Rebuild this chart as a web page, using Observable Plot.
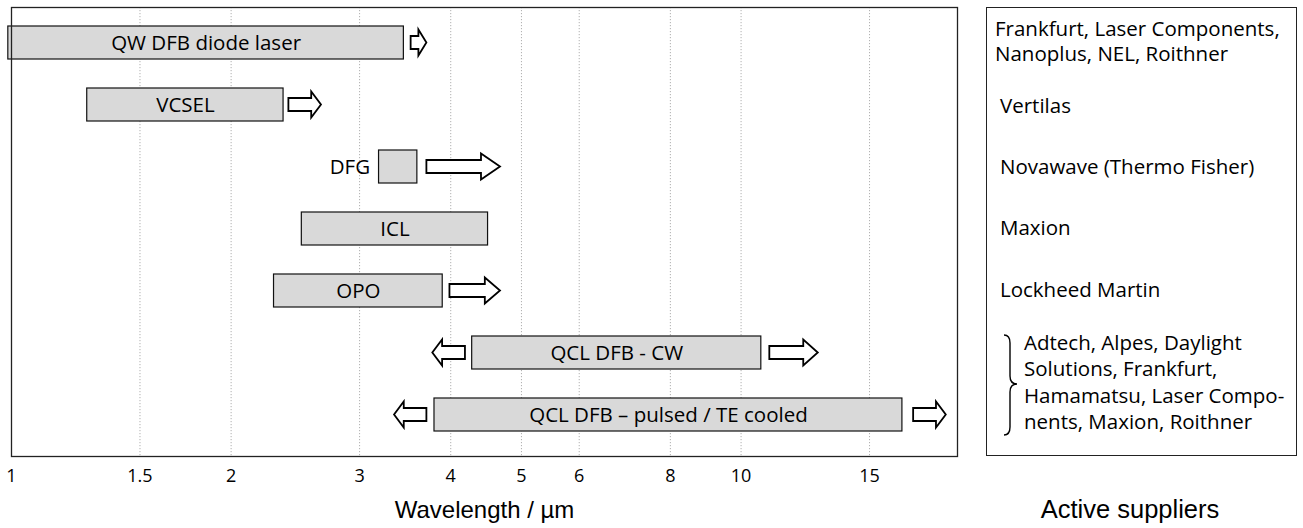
<!DOCTYPE html>
<html>
<head>
<meta charset="utf-8">
<script src="https://cdn.jsdelivr.net/npm/d3@7"></script>
<script src="https://cdn.jsdelivr.net/npm/@observablehq/plot@0.6"></script>
<style>
  html, body { margin: 0; padding: 0; background: #fff; }
  #wrap { position: relative; width: 1303px; height: 528px; overflow: hidden; }
  #chart { position: absolute; left: 0; top: 0; }
  .panel { position: absolute; left: 986px; top: 7px; width: 311px; height: 449px;
           box-sizing: border-box; border: 1.3px solid #222; }
  .sup { position: absolute; font-family: "Open Sans", sans-serif; font-size: 20.5px; color: #000;
         white-space: nowrap; line-height: 25px; }
  .title { position: absolute; font-family: "Liberation Sans", Arial, sans-serif; font-size: 25.5px;
           color: #000; white-space: nowrap; line-height: 28px; }
</style>
</head>
<body>
<div id="wrap">
  <div id="chart"></div>
  <div class="panel"></div>
</div>
<script>
// ---- data (wavelengths in µm) ----
const technologies = [
  "QW DFB diode laser",
  "VCSEL",
  "DFG",
  "ICL",
  "OPO",
  "QCL DFB - CW",
  "QCL DFB \u2013 pulsed / TE cooled"
];
const rangeStartUm = [0.99, 1.27, 3.19, 2.50, 2.29, 4.28, 3.80];
const rangeEndUm   = [3.45, 2.36, 3.60, 4.50, 3.90, 10.66, 16.64];

const arrowTech = [
  "QW DFB diode laser", "VCSEL", "DFG", "OPO",
  "QCL DFB - CW", "QCL DFB - CW",
  "QCL DFB \u2013 pulsed / TE cooled", "QCL DFB \u2013 pulsed / TE cooled"
];
const arrowTailUm = [3.53, 2.40, 3.71, 3.99, 4.19, 10.95, 3.71, 17.24];
const arrowTipUm  = [3.71, 2.66, 4.68, 4.68, 3.78, 12.76, 3.35, 19.11];

const tickValuesUm = [1, 1.5, 2, 3, 4, 5, 6, 8, 10, 15];
const xDomainUm = [1, 19.8];
const axisLabel = "Wavelength / \u00b5m";

const supplierLines = [
  ["Frankfurt, Laser Components,", "Nanoplus, NEL, Roithner"],
  ["Vertilas"],
  ["Novawave (Thermo Fisher)"],
  ["Maxion"],
  ["Lockheed Martin"],
  ["Adtech, Alpes, Daylight", "Solutions, Frankfurt,", "Hamamatsu, Laser Compo-", "nents, Maxion, Roithner"]
];
const panelTitle = "Active suppliers";

// ---- build table ----
const bars = technologies.map((t, i) => ({tech: t, start: rangeStartUm[i], end: rangeEndUm[i]}));
const arrows = arrowTech.map((t, i) => ({tech: t, tail: arrowTailUm[i], tip: arrowTipUm[i]}));

const labelFont = "'Open Sans', sans-serif";

const plot = Plot.plot({
  width: 970,
  height: 528,
  marginLeft: 11,
  marginRight: 13,
  marginTop: 7,
  marginBottom: 72,
  style: {background: "#fff", overflow: "visible"},
  x: {type: "log", domain: xDomainUm, ticks: tickValuesUm, tickFormat: d => String(d)},
  y: {type: "band", domain: technologies, paddingInner: 0.46, paddingOuter: 0.3, align: 0.44, axis: null},
  marks: [
    Plot.ruleX(tickValuesUm.filter(v => v > xDomainUm[0]), {stroke: "#b0b0b0", strokeWidth: 1, strokeDasharray: "1.2,1.8"}),
    Plot.barX(bars, {x1: "start", x2: "end", y: "tech", fill: "#d9d9d9", stroke: "#111", strokeWidth: 1.2}),
    Plot.text(bars.filter(d => d.tech !== "DFG"), {
      x: d => Math.sqrt(d.start * d.end), y: "tech", text: "tech",
      fontFamily: labelFont, fontSize: 20.5, fill: "#000"
    }),
    Plot.text(bars.filter(d => d.tech === "DFG"), {
      x: "start", y: "tech", text: "tech", textAnchor: "end", dx: -9,
      fontFamily: labelFont, fontSize: 20.5, fill: "#000"
    }),
    Plot.frame({stroke: "#222", strokeWidth: 1.3}),
    Plot.axisX({ticks: tickValuesUm, tickFormat: d => String(d), tickSize: 0, tickPadding: 13,
      fontFamily: labelFont, fontSize: 18, fill: "#000", label: null}),
    Plot.text([axisLabel], {frameAnchor: "bottom", dy: 61, lineAnchor: "bottom",
      fontFamily: "'Liberation Sans', Arial, sans-serif", fontSize: 24, fill: "#000"})
  ]
});

// ---- block arrows, positioned through the plot's own scales ----
const xs = plot.scale("x");
const ys = plot.scale("y");
const g = d3.select(plot).append("g").attr("aria-label", "arrows");
for (const a of arrows) {
  const t = xs.apply(a.tail), p = xs.apply(a.tip);
  const c = ys.apply(a.tech) + ys.bandwidth / 2;
  const s = Math.sign(p - t);
  const len = Math.abs(p - t);
  const hl = Math.max(8, Math.min(19, 0.3 * len));
  const hb = p - s * hl;
  const sh = 6.5, hh = 13;
  const pts = [[t, c - sh], [hb, c - sh], [hb, c - hh], [p, c], [hb, c + hh], [hb, c + sh], [t, c + sh]];
  g.append("path")
    .attr("d", "M" + pts.map(q => q.join(",")).join("L") + "Z")
    .attr("fill", "#fff").attr("stroke", "#000").attr("stroke-width", 1.8)
    .attr("stroke-linejoin", "miter");
}
document.getElementById("chart").appendChild(plot);

// ---- supplier panel (legend-like text block) ----
const wrap = document.getElementById("wrap");
const supFont = 20.5, supLine = 25;
const baseOffset = (supLine - 1.362 * supFont) / 2 + 1.069 * supFont;
const blockLayout = [
  {x: 995, base: 36, lh: 25.5},
  {x: 1000, base: 113, lh: 25},
  {x: 1000, base: 174, lh: 25},
  {x: 1000, base: 235, lh: 25},
  {x: 1000, base: 297, lh: 25},
  {x: 1024, base: 350, lh: 26.6}
];
supplierLines.forEach((lines, i) => {
  const L = blockLayout[i];
  lines.forEach((line, j) => {
    const el = document.createElement("div");
    el.className = "sup";
    el.textContent = line;
    el.style.left = L.x + "px";
    el.style.top = (L.base + j * L.lh - baseOffset) + "px";
    wrap.appendChild(el);
  });
});
// brace for the QCL group
const brace = d3.create("svg").attr("width", 24).attr("height", 112)
  .style("position", "absolute").style("left", "999px").style("top", "330px");
brace.append("path")
  .attr("d", "M5,5 Q11,5 11,13 L11,46 Q11,54 18,54 Q11,54 11,62 L11,97 Q11,105 5,105")
  .attr("fill", "none").attr("stroke", "#000").attr("stroke-width", 1.4);
wrap.appendChild(brace.node());

const t = document.createElement("div");
t.className = "title";
t.textContent = panelTitle;
t.style.left = "1130px";
t.style.transform = "translateX(-50%)";
t.style.top = "495px";
wrap.appendChild(t);
</script>
</body>
</html>
